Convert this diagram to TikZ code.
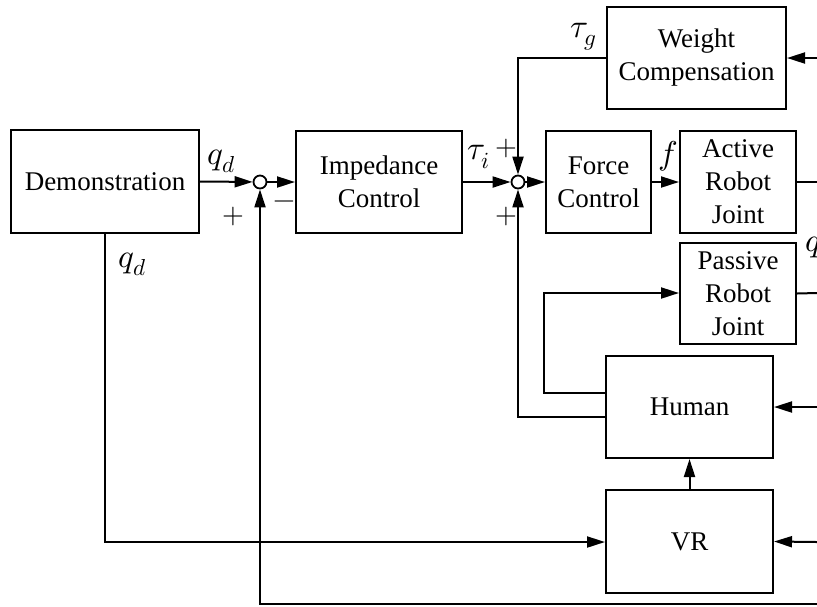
\documentclass[tikz,border=0pt]{standalone}
\usepackage{fontspec}
\usepackage{unicode-math}
\setmainfont{Liberation Serif}
\setmathfont{Latin Modern Math}
\usetikzlibrary{arrows.meta}
\begin{document}
\begin{tikzpicture}[x=0.5pt,y=-0.5pt,
  blk/.style={draw,line width=1pt,align=center,inner sep=0pt,font=\fontsize{13.5}{16.5}\selectfont},
  sumc/.style={circle,draw,fill=white,line width=0.9pt,inner sep=0pt,minimum size=6.5pt},
  arr/.style={line width=1pt,-{Triangle[length=9pt,width=5.5pt]}},
  ln/.style={line width=1pt},
  lbl/.style={font=\fontsize{16.5}{18}\selectfont,inner sep=0pt},
  sgn/.style={font=\fontsize{14}{16}\selectfont,inner sep=0pt}]
\useasboundingbox (0,0) rectangle (817,606);
\clip (0,0) rectangle (817,606);

% blocks
\node[blk,minimum width=94pt,minimum height=51.5pt] (demo) at (105,181.5) {Demonstration};
\node[blk,minimum width=83pt,minimum height=51pt] (imp) at (379,182) {Impedance\\Control};
\node[blk,minimum width=52.5pt,minimum height=51pt] (force) at (598.5,182) {Force\\Control};
\node[blk,minimum width=58pt,minimum height=51pt] (active) at (738,182) {Active\\Robot\\Joint};
\node[blk,minimum width=89.5pt,minimum height=51pt] (weight) at (696.5,58) {Weight\\Compensation};
\node[blk,minimum width=58pt,minimum height=50.5pt] (passive) at (738,293.5) {Passive\\Robot\\Joint};
\node[blk,minimum width=83.5pt,minimum height=51pt] (human) at (689.5,407) {Human};
\node[blk,minimum width=83.5pt,minimum height=51.5pt] (vr) at (689.5,541.5) {VR};

% summing junctions
\node[sumc] (s1) at (260,182) {};
\node[sumc] (s2) at (518,182) {};

% free ends at the right edge
\coordinate (aout) at (817,182);
\coordinate (win) at (817,58);
\coordinate (pout) at (817,293);
\coordinate (hin) at (817,407);
\coordinate (vin) at (817,542);
\coordinate (bot) at (817,604);

% forward path
\draw[arr] (demo.east) -- (s1);
\draw[arr] (s1) -- (imp.west);
\draw[arr] (imp.east) -- (s2);
\draw[arr] (s2) -- (force.west);
\draw[arr] (force.east) -- (active.west);
\draw[ln] (active.east) -- (aout);
\draw[ln] (passive.east) -- (pout);

% weight compensation
\draw[arr] (win) -- (weight.east);
\draw[arr] (weight.west) -- (518,58) -- (s2.north);

% human
\draw[arr] (hin) -- (human.east);
\draw[arr] (human.west |- 0,393) -- (544,393) -- (544,293) -- (passive.west |- 0,293);
\draw[arr] (human.west |- 0,417) -- (518,417) -- (s2.south);

% VR
\draw[arr] (vin) -- (vr.east);
\draw[arr] (vr.north) -- (human.south);
\draw[arr] (demo.south) -- (105,542) -- (vr.west |- 0,542);

% bottom feedback
\draw[arr] (bot) -- (260,604) -- (s1.south);

% labels
\node[lbl] (lqd1) at (222,161) {$q_d$};
\node[lbl] (lqd2) at (133,264) {$q_d$};
\node[lbl] (lti) at (479,157) {$\tau_i$};
\node[lbl] (ltg) at (584,37) {$\tau_g$};
\node[lbl] (lf) at (668,156) {$f$};
\node[lbl] (lq) at (813,247) {$q$};
\node[sgn] (p1) at (233,216) {$+$};
\node[sgn] (m1) at (284,205) {$-$};
\node[sgn] (p2) at (506,148) {$+$};
\node[sgn] (p3) at (506,216) {$+$};
\end{tikzpicture}
\end{document}
